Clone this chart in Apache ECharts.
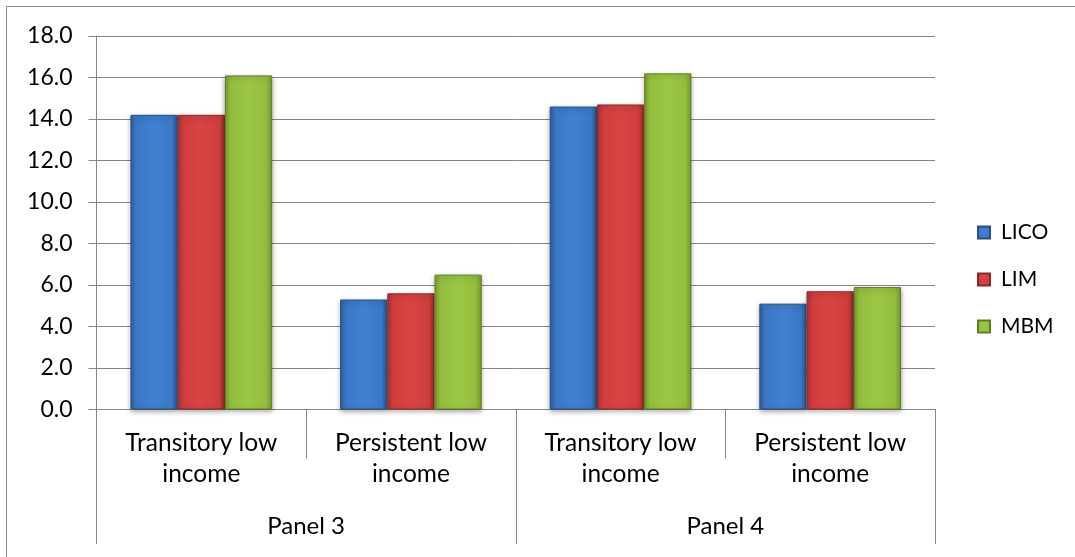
<!DOCTYPE html>
<html>
<head>
<meta charset="utf-8">
<script src="https://cdn.jsdelivr.net/npm/echarts@6/dist/echarts.min.js"></script>
<style>
  html, body { margin: 0; padding: 0; background: #fff; }
  #chart { width: 1075px; height: 557px; }
</style>
</head>
<body>
<div id="chart"></div>
<script>
// Low-income rates by measure, two panels
const categories = ['Transitory low\nincome', 'Persistent low\nincome', 'Transitory low\nincome', 'Persistent low\nincome'];
const panels = ['Panel 3', 'Panel 4'];
const seriesNames = ['LICO', 'LIM', 'MBM'];
const licoValues = [14.2, 5.3, 14.6, 5.1];
const limValues = [14.2, 5.6, 14.7, 5.7];
const mbmValues = [16.1, 6.5, 16.2, 5.9];
const yTicks = { min: 0, max: 18, interval: 2 };

const FONT = 'Lato';
const AXIS_GREY = '#868686';

// Bevel-like fill: darker at the sides, brighter in the middle
function bevel(edge, mid, light) {
  return new echarts.graphic.LinearGradient(0, 0, 1, 0, [
    { offset: 0, color: edge },
    { offset: 0.12, color: mid },
    { offset: 0.5, color: light },
    { offset: 0.88, color: mid },
    { offset: 1, color: edge }
  ]);
}

const palette = [
  { fill: bevel('#2f5f9e', '#3a78c6', '#3f80d0'), border: '#2b4f80' },
  { fill: bevel('#a83232', '#cf3d3d', '#d84444'), border: '#8a2a2a' },
  { fill: bevel('#7a9e30', '#93bd3e', '#9cc744'), border: '#5f7d25' }
];

function makeSeries(name, values, idx) {
  return {
    name: name,
    type: 'bar',
    data: values,
    barGap: '0%',
    barCategoryGap: '32.4%',
    itemStyle: {
      color: palette[idx].fill,
      borderColor: palette[idx].border,
      borderWidth: 1,
      shadowColor: 'rgba(0,0,0,0.35)',
      shadowBlur: 5,
      shadowOffsetY: 2
    },
    emphasis: { disabled: true }
  };
}

const chart = echarts.init(document.getElementById('chart'), null, { renderer: 'canvas' });

chart.setOption({
  animation: false,
  backgroundColor: '#fff',
  textStyle: { fontFamily: FONT },
  graphic: [{
    type: 'rect',
    shape: { x: 6.5, y: 6.5, width: 1200, height: 700 },
    style: { fill: 'none', stroke: AXIS_GREY, lineWidth: 1 },
    silent: true,
    z: -1
  }],
  grid: { left: 96.5, right: 140, top: 36, bottom: 147.5 },
  legend: {
    orient: 'vertical',
    left: 972,
    top: 216,
    itemWidth: 12,
    itemHeight: 12,
    itemGap: 24,
    icon: 'rect',
    data: seriesNames,
    textStyle: { fontFamily: FONT, fontSize: 21, color: '#000', lineHeight: 23, padding: [0, 0, 0, 6] }
  },
  xAxis: [{
    type: 'category',
    data: categories,
    position: 'bottom',
    axisLine: { show: true, lineStyle: { color: AXIS_GREY, width: 1 } },
    axisTick: { show: true, interval: 0, length: 49, lineStyle: { color: AXIS_GREY } },
    axisLabel: { interval: 0, margin: 18, fontFamily: FONT, fontSize: 24.5, lineHeight: 31, color: '#000', align: 'center' },
    splitLine: { show: false }
  }, {
    type: 'category',
    data: panels,
    position: 'bottom',
    offset: 0,
    axisLine: { show: false },
    axisTick: { show: true, interval: 0, length: 134.5, lineStyle: { color: AXIS_GREY } },
    axisLabel: { interval: 0, margin: 101, fontFamily: FONT, fontSize: 24, lineHeight: 31, color: '#000' },
    splitLine: { show: false }
  }],
  yAxis: {
    type: 'value',
    min: yTicks.min,
    max: yTicks.max,
    interval: yTicks.interval,
    axisLine: { show: true, lineStyle: { color: AXIS_GREY, width: 1 } },
    axisTick: { show: true, length: 8, lineStyle: { color: AXIS_GREY } },
    axisLabel: {
      margin: 24,
      fontFamily: FONT,
      fontSize: 23,
      color: '#000',
      formatter: v => v.toFixed(1)
    },
    splitLine: { show: true, lineStyle: { color: AXIS_GREY, width: 1 } }
  },
  series: [
    makeSeries('LICO', licoValues, 0),
    makeSeries('LIM', limValues, 1),
    makeSeries('MBM', mbmValues, 2)
  ]
});
</script>
</body>
</html>
